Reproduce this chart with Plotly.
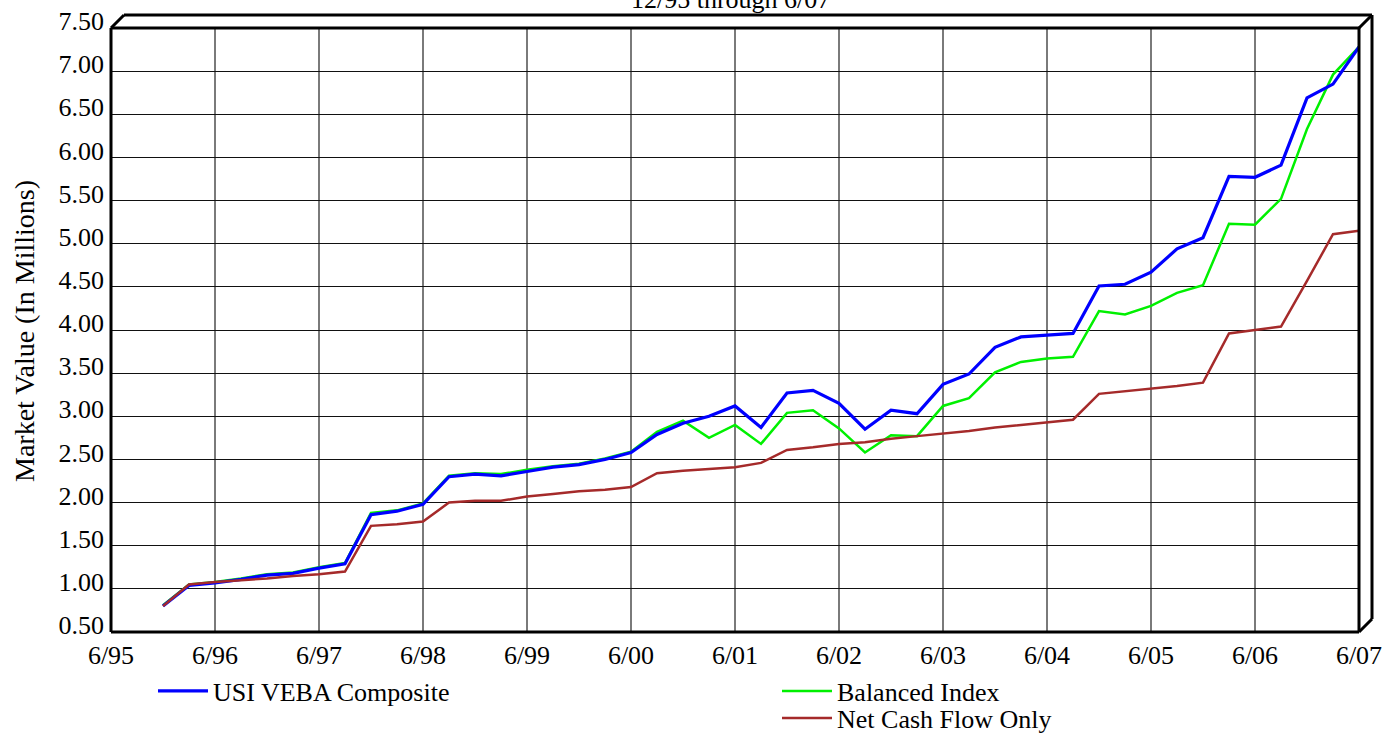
import plotly.graph_objects as go

# ---------------- data ----------------
quarters = ["12/95", "3/96", "6/96", "9/96", "12/96", "3/97", "6/97", "9/97", "12/97",
            "3/98", "6/98", "9/98", "12/98", "3/99", "6/99", "9/99", "12/99",
            "3/00", "6/00", "9/00", "12/00", "3/01", "6/01", "9/01", "12/01",
            "3/02", "6/02", "9/02", "12/02", "3/03", "6/03", "9/03", "12/03",
            "3/04", "6/04", "9/04", "12/04", "3/05", "6/05", "9/05", "12/05",
            "3/06", "6/06", "9/06", "12/06", "3/07", "6/07"]

usi_veba = [0.80, 1.04, 1.07, 1.11, 1.16, 1.18, 1.24, 1.29, 1.86,
            1.90, 1.98, 2.30, 2.33, 2.31, 2.36, 2.41, 2.44,
            2.50, 2.58, 2.79, 2.92, 3.00, 3.12, 2.87, 3.27,
            3.30, 3.15, 2.85, 3.07, 3.03, 3.37, 3.49, 3.80,
            3.92, 3.94, 3.96, 4.51, 4.53, 4.67, 4.94, 5.07,
            5.78, 5.77, 5.91, 6.69, 6.85, 7.28]

balanced = [0.81, 1.05, 1.08, 1.12, 1.17, 1.19, 1.25, 1.30, 1.88,
            1.91, 1.99, 2.31, 2.34, 2.33, 2.38, 2.42, 2.45,
            2.51, 2.59, 2.82, 2.95, 2.75, 2.90, 2.68, 3.04,
            3.07, 2.86, 2.58, 2.78, 2.77, 3.12, 3.21, 3.51,
            3.63, 3.67, 3.69, 4.22, 4.18, 4.28, 4.43, 4.52,
            5.23, 5.22, 5.52, 6.33, 6.96, 7.28]

net_cash = [0.80, 1.05, 1.08, 1.10, 1.12, 1.15, 1.17, 1.20, 1.73,
            1.75, 1.78, 2.00, 2.02, 2.02, 2.07, 2.10, 2.13,
            2.15, 2.18, 2.34, 2.37, 2.39, 2.41, 2.46, 2.61,
            2.64, 2.68, 2.70, 2.74, 2.77, 2.80, 2.83, 2.87,
            2.90, 2.93, 2.96, 3.26, 3.29, 3.32, 3.35, 3.39,
            3.96, 4.00, 4.04, 4.57, 5.11, 5.15]

x_tick_labels = ["6/95", "6/96", "6/97", "6/98", "6/99", "6/00", "6/01",
                 "6/02", "6/03", "6/04", "6/05", "6/06", "6/07"]
y_tick_values = [0.5, 1.0, 1.5, 2.0, 2.5, 3.0, 3.5, 4.0, 4.5, 5.0, 5.5, 6.0, 6.5, 7.0, 7.5]

title_text = "12/95 through 6/07"
y_title = "Market Value (In Millions)"


def to_year(label):
    m, y = label.split("/")
    y = int(y)
    y = 1900 + y if y >= 50 else 2000 + y
    return y + int(m) / 12.0


xq = [to_year(q) for q in quarters]
xticks = [to_year(t) for t in x_tick_labels]

# ---------------- layout geometry ----------------
W, H = 1386, 734
L, R, T, B = 111, 1359, 28, 632
PW, PH = R - L, B - T


def px(xp):
    return (xp - L) / PW


def py(yp):
    return (B - yp) / PH


FONT = "Liberation Serif, Times New Roman, serif"

fig = go.Figure()
fig.add_trace(go.Scatter(x=xq, y=balanced, mode="lines", name="Balanced Index",
                         line=dict(color="#00F000", width=2.5), legend="legend2"))
fig.add_trace(go.Scatter(x=xq, y=usi_veba, mode="lines", name="USI VEBA Composite",
                         line=dict(color="#0000FF", width=3.2), legend="legend"))
fig.add_trace(go.Scatter(x=xq, y=net_cash, mode="lines", name="Net Cash Flow Only",
                         line=dict(color="#A52A2A", width=2.5), legend="legend3"))

shapes = []
frame = dict(type="line", xref="paper", yref="paper", line=dict(color="black", width=3))
for (x0, y0, x1, y1) in [(L, T, R, T), (L, B, R, B), (L, T, L, B), (R, T, R, B),
                         (L, T, L + 13, T - 13), (L + 13, T - 13, R + 13, T - 13),
                         (R, T, R + 13, T - 13), (R + 13, T - 13, R + 13, B - 13),
                         (R + 13, B - 13, R, B)]:
    s = dict(frame)
    s.update(x0=px(x0), y0=py(y0), x1=px(x1), y1=py(y1))
    shapes.append(s)

legend_common = dict(font=dict(family=FONT, size=26, color="black"), bgcolor="rgba(0,0,0,0)",
                     borderwidth=0, itemwidth=50, xanchor="left", yanchor="middle",
                     itemclick=False, itemdoubleclick=False)

fig.update_layout(
    width=W, height=H,
    margin=dict(l=L, r=W - R, t=T, b=H - B, pad=0, autoexpand=False),
    paper_bgcolor="white", plot_bgcolor="white",
    font=dict(family=FONT, size=26, color="black"),
    showlegend=True,
    legend=dict(x=px(153), y=py(691), **legend_common),
    legend2=dict(x=px(777), y=py(691), **legend_common),
    legend3=dict(x=px(777), y=py(718), **legend_common),
    xaxis=dict(range=[xticks[0], xticks[-1]], tickvals=xticks, ticktext=x_tick_labels,
               showgrid=True, gridcolor="#7a7a7a", gridwidth=2, zeroline=False,
               showline=False, ticks="", ticklabelstandoff=5,
               tickfont=dict(family=FONT, size=26, color="black"), fixedrange=True),
    yaxis=dict(range=[0.5, 7.5], tickvals=y_tick_values, tickformat=".2f",
               showgrid=True, gridcolor="#111111", gridwidth=1, zeroline=False,
               showline=False, ticks="", ticklabelstandoff=6, ticklabelshift=-7,
               tickfont=dict(family=FONT, size=26, color="black"), fixedrange=True),
    shapes=shapes,
    annotations=[
        dict(text=title_text, xref="paper", yref="paper", x=px(730), y=py(-1),
             xanchor="center", yanchor="middle", showarrow=False,
             font=dict(family=FONT, size=26, color="black")),
        dict(text=y_title, xref="paper", yref="paper", x=px(24), y=py(331),
             xanchor="center", yanchor="middle", textangle=-90, showarrow=False,
             font=dict(family=FONT, size=28, color="black")),
    ],
)

fig.write_html("out.html")
